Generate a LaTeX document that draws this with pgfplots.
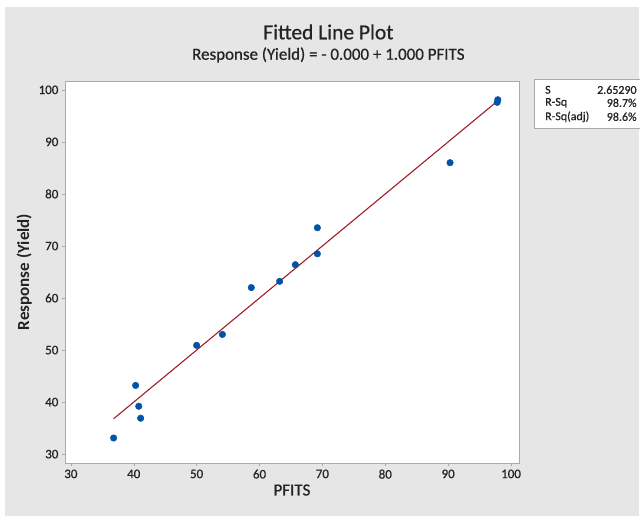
\documentclass[border=0pt]{standalone}
\usepackage{pgfplots}
\pgfplotsset{compat=1.18}
\usepackage{fontspec}
\setmainfont{Carlito}[FakeBold=0.6, BoldFont={Carlito Bold}, BoldFeatures={FakeBold=0}]

\definecolor{bggray}{RGB}{230,230,230}
\definecolor{framegray}{RGB}{170,170,170}
\definecolor{ptblue}{RGB}{0,84,166}
\definecolor{fitred}{RGB}{160,30,40}
\definecolor{txt}{RGB}{35,35,35}

\begin{document}
\begin{tikzpicture}
% page and panel background (1px = 1pt)
\fill[white] (0pt,0pt) rectangle (640pt,-521pt);
\fill[bggray] (5pt,-7pt) rectangle (640pt,-517pt);

\node[font=\fontsize{21.5}{24}\selectfont, text=txt] at (329pt,-32pt) {Fitted Line Plot};
\node[font=\fontsize{17}{19}\selectfont, text=txt] at (329pt,-55pt) {Response (Yield) = - 0.000 + 1.000 PFITS};

\begin{axis}[
    at={(65pt,-464pt)}, anchor=south west,
    scale only axis,
    width=455pt, height=383pt,
    xmin=29.05, xmax=101.27,
    ymin=28.27, ymax=101.73,
    xtick={30,40,...,100},
    ytick={30,40,...,100},
    axis background/.style={fill=white},
    axis line style={framegray},
    tick style={framegray, thin},
    tick align=outside,
    major tick length=3pt,
    xtick pos=bottom, ytick pos=left,
    tick label style={font=\fontsize{13}{15}\selectfont, text=txt},
    /pgf/number format/assume math mode=true,
    xlabel={PFITS},
    ylabel={\bfseries Response (Yield)},
    xlabel style={font=\fontsize{17}{20}\selectfont, text=txt, yshift=1pt},
    ylabel style={font=\fontsize{17}{20}\selectfont, text=txt, yshift=0pt},
    clip=false,
]
\addplot[fitred, line width=1.1pt] coordinates {(36.8,36.8) (97.9,97.9)};
\addplot[only marks, mark=*, mark size=3.3pt, ptblue] coordinates {
    (36.8,33.1) (40.3,43.2) (40.8,39.2) (41.1,36.9) (50.0,50.9)
    (54.1,53.0) (58.7,62.0) (63.2,63.2) (65.7,66.4) (69.2,68.5)
    (69.2,73.5) (90.3,86.0) (97.8,97.6) (97.9,98.1)
};
\end{axis}

% statistics box
\draw[framegray, fill=white] (535pt,-79pt) rectangle (641pt,-128pt);
\begin{scope}[every node/.style={font=\fontsize{12}{13}\selectfont, text=txt, inner sep=0pt}]
\node[anchor=west] at (546pt,-90pt) {S};
\node[anchor=west] at (546pt,-103pt) {R-Sq};
\node[anchor=west] at (546pt,-117pt) {R-Sq(adj)};
\node[anchor=east] at (638pt,-90pt) {2.65290};
\node[anchor=east] at (638pt,-103pt) {98.7\%};
\node[anchor=east] at (638pt,-117pt) {98.6\%};
\end{scope}
\useasboundingbox (0pt,0pt) rectangle (640pt,-521pt);
\end{tikzpicture}
\end{document}
